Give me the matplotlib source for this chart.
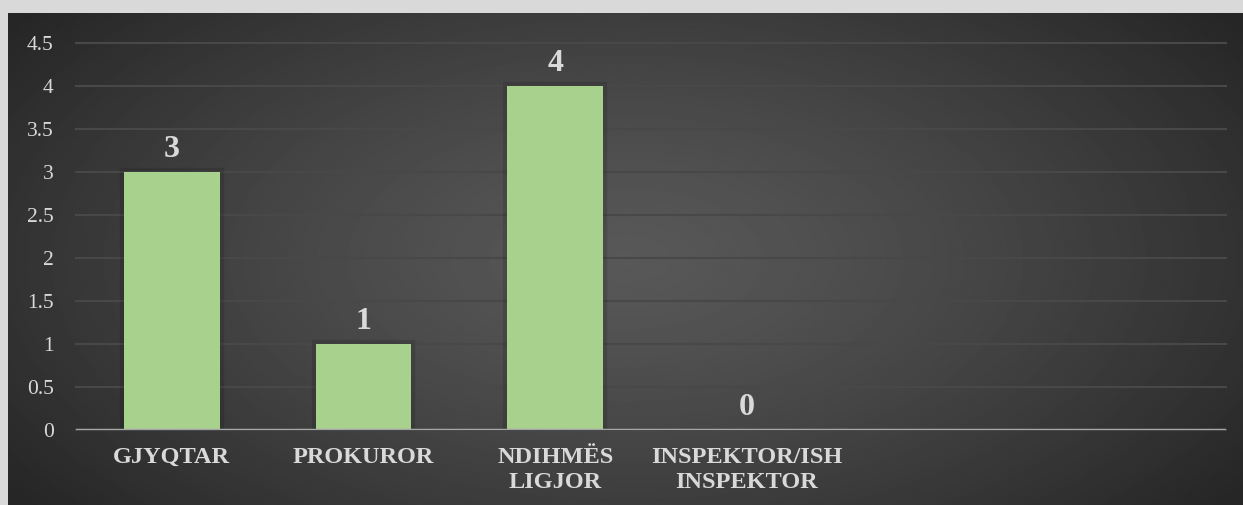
import numpy as np
from matplotlib import pyplot as plt
import matplotlib.patheffects as pe

categories = ['GJYQTAR', 'PROKUROR', 'NDIHMËS\nLIGJOR', 'INSPEKTOR/ISH\nINSPEKTOR', '', '']
values = [3, 1, 4, 0]
yticks = [0, 0.5, 1, 1.5, 2, 2.5, 3, 3.5, 4, 4.5]
ytick_labels = ['0', '0.5', '1', '1.5', '2', '2.5', '3', '3.5', '4', '4.5']

W, H = 1243, 505
fig = plt.figure(figsize=(W / 100, H / 100), dpi=100, facecolor='#d9d9d9')

# dark panel with radial gradient
bg = fig.add_axes([8 / W, 0, 1 - 8 / W, 1 - 13 / H])
bg.set_axis_off()
yy, xx = np.mgrid[0:1:300j, 0:1:700j]
d = np.sqrt(((xx - 0.5) / 0.62) ** 2 + ((yy - 0.5) / 0.8) ** 2)
d = np.clip(d, 0, 1)
shade = 0.345 - (0.345 - 0.15) * d ** 1.3
bg.imshow(shade, cmap='gray', vmin=0, vmax=1, aspect='auto', extent=[0, 1, 0, 1], interpolation='bilinear')
bg.set_xlim(0, 1)
bg.set_ylim(0, 1)

ax = fig.add_axes([76 / W, 1 - 430 / H, 1150 / W, (430 - 43) / H])
ax.set_facecolor('none')
for s in ax.spines.values():
    s.set_visible(False)

x = np.arange(len(categories))
bars = ax.bar(x[:len(values)], values, width=0.5, color='#a9d18e', zorder=3)
for b, v in zip(bars, values):
    if v > 0:
        b.set_path_effects([pe.Stroke(linewidth=6, foreground='black', alpha=0.12), pe.Normal()])

for xi, v in zip(x, values):
    ax.annotate(str(v), (xi, v), xytext=(0, 6), textcoords='offset points',
                ha='center', va='bottom', fontsize=23, fontweight='bold',
                family='Liberation Serif', color='#d9d9d9')

ax.set_xlim(-0.5, len(categories) - 0.5)
ax.set_ylim(0, 4.5)
ax.set_yticks(yticks)
ax.set_yticklabels(ytick_labels, family='Liberation Serif', fontsize=15.5, color='#d9d9d9')
ax.set_xticks(x)
ax.set_xticklabels(categories, family='Liberation Serif', fontsize=17.5, fontweight='bold',
                   color='#d9d9d9', linespacing=1.25)
ax.tick_params(axis='y', length=0, pad=16)
ax.tick_params(axis='x', length=0, pad=12)

ax.grid(axis='y', color='#484848', linewidth=1.5, zorder=0, clip_on=False)
ax.axhline(0, color='#a6a6a6', linewidth=2.5, zorder=4)

fig.savefig('out.png', dpi=100, facecolor=fig.get_facecolor())
